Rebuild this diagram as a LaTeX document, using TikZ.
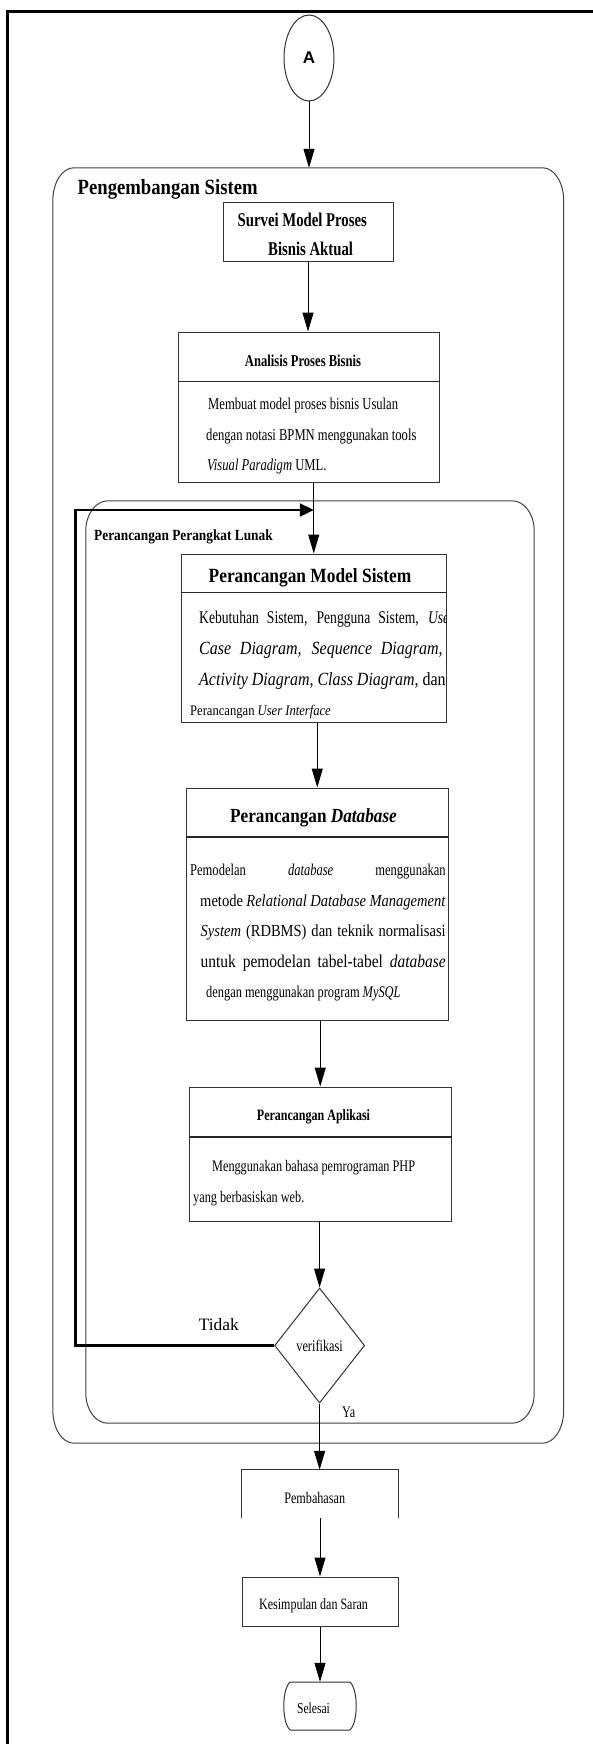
\documentclass[tikz,border=0pt]{standalone}
\usepackage{fontspec}
\setmainfont{Liberation Serif}
\newfontfamily\fa[FakeStretch=0.76]{Liberation Serif}
\newfontfamily\fb[FakeStretch=0.86]{Liberation Serif}
\newfontfamily\fs{Liberation Sans}
\usetikzlibrary{arrows.meta,shapes.geometric,calc}
\newcommand\fz[1]{\fontsize{#1}{#1}\selectfont}

% outline of a container node with elliptic corners (x radius #2, y radius #3)
\newcommand\roundframe[3]{%
  \draw[contline] ($(#1.north west)+(#2,0)$) -- ($(#1.north east)+(-#2,0)$)
    .. controls ($(#1.north east)+(-0.448*#2,0)$) and ($(#1.north east)+(0,0.448*#3)$) .. ($(#1.north east)+(0,#3)$)
    -- ($(#1.south east)+(0,-#3)$)
    .. controls ($(#1.south east)+(0,-0.448*#3)$) and ($(#1.south east)+(-0.448*#2,0)$) .. ($(#1.south east)+(-#2,0)$)
    -- ($(#1.south west)+(#2,0)$)
    .. controls ($(#1.south west)+(0.448*#2,0)$) and ($(#1.south west)+(0,-0.448*#3)$) .. ($(#1.south west)+(0,-#3)$)
    -- ($(#1.north west)+(0,#3)$)
    .. controls ($(#1.north west)+(0,0.448*#3)$) and ($(#1.north west)+(0.448*#2,0)$) .. ($(#1.north west)+(#2,0)$) -- cycle;}

\tikzset{
  frame/.style={line width=3pt, black},
  box/.style={draw=black!80, line width=1pt, rectangle, inner sep=0pt},
  cont/.style={rectangle, inner sep=0pt},
  contline/.style={draw=black!75, line width=1pt},
  divider/.style={draw=black!85, line width=1pt},
  thickdiv/.style={draw=black!85, line width=2pt},
  arr/.style={-{Triangle[length=19pt,width=11pt]}, black, line width=1pt},
  loopline/.style={-{Triangle[length=14pt,width=13pt]}, black, line width=2.4pt},
  txt/.style={inner sep=0pt, anchor=base west},
  ctxt/.style={inner sep=0pt, anchor=base},
}

\begin{document}
\begin{tikzpicture}[x=1pt, y=-1pt]
\useasboundingbox (0,0) rectangle (593,1744);

% page frame (top and left edges)
\draw[frame] (7.5,1744) -- (7.5,12) -- (593,12);

% start connector
\node[draw=black!80, line width=1pt, ellipse, minimum width=50pt, minimum height=86pt, inner sep=0pt]
  (A) at (309,58) {\fs\bfseries\fz{17}A};

% containers
\node[cont, minimum width=510.5pt, minimum height=1275pt] (outer) at (308.25,805.5) {};
\roundframe{outer}{21}{33}
\node[txt] (outerT) at (77.5,195) {\fb\bfseries\fz{21.7}Pengembangan Sistem};

\node[cont, minimum width=448pt, minimum height=922pt] (inner) at (310,962) {};
\roundframe{inner}{22}{30}
\node[txt] (innerT) at (94,540) {\fb\bfseries\fz{15.5}Perancangan Perangkat Lunak};

% Survei Model Proses Bisnis Aktual
\node[box, minimum width=170pt, minimum height=58pt] (survei) at (308,232) {};
\node[txt] (s1) at (237.5,227) {\fa\bfseries\fz{19.4}Survei Model Proses};
\node[txt] (s2) at (268,255) {\fa\bfseries\fz{19.4}Bisnis Aktual};

% Analisis Proses Bisnis
\node[box, minimum width=261pt, minimum height=150pt] (analisis) at (308.5,407) {};
\draw[divider] (analisis.west |- 0,381) -- (analisis.east |- 0,381);
\node[ctxt] (aH) at (303,366) {\fa\bfseries\fz{16.6}Analisis Proses Bisnis};
\node[txt] (a1) at (208,409) {\fa\fz{16.6}Membuat model proses bisnis Usulan};
\node[txt] (a2) at (206,440) {\fa\fz{16.6}dengan notasi BPMN menggunakan tools};
\node[txt] (a3) at (207,470) {\fa\fz{16.6}\textit{Visual Paradigm} UML.};

% Perancangan Model Sistem
\node[box, minimum width=264.5pt, minimum height=168pt] (model) at (313.75,638) {};
\draw[divider] (model.west |- 0,592) -- (model.east |- 0,592);
\node[ctxt] (mH) at (310,582) {\fb\bfseries\fz{20.2}Perancangan Model Sistem};
\begin{scope}
  \clip (model.north west) rectangle (model.south east);
  \node[txt] (m1) at (199,623) {\fa\fz{17.9}\makebox[250pt][s]{Kebutuhan Sistem, Pengguna Sistem, \textit{Use}}};
\end{scope}
\node[txt] (m2) at (199,654) {\fb\itshape\fz{18.6}\makebox[243.5pt][s]{Case Diagram, Sequence Diagram,}};
\node[txt] (m3) at (199,685) {\fb\fz{18.6}\makebox[246.5pt][s]{\textit{Activity Diagram, Class Diagram}, dan}};
\node[txt] (m4) at (190,715) {\fb\fz{14.65}Perancangan \textit{User Interface}};

% Perancangan Database
\node[box, minimum width=261.5pt, minimum height=232pt] (database) at (317.25,904) {};
\draw[thickdiv] (database.west |- 0,837) -- (database.east |- 0,837);
\node[ctxt] (dH) at (313.5,822) {\fb\bfseries\fz{20}Perancangan \textit{Database}};
\node[txt] (d1) at (190,875) {\fa\fz{16.5}\makebox[255.5pt][s]{Pemodelan \textit{database} menggunakan}};
\node[txt] (d2) at (200,906) {\fb\fz{16.9}\makebox[245.5pt][s]{metode \textit{Relational Database Management}}};
\node[txt] (d3) at (200.5,936) {\fb\fz{16.9}\makebox[245pt][s]{\textit{System} (RDBMS) dan teknik normalisasi}};
\node[txt] (d4) at (200.5,967) {\fb\fz{18}\makebox[245pt][s]{untuk pemodelan tabel-tabel \textit{database}}};
\node[txt] (d5) at (206,997) {\fa\fz{16.3}dengan menggunakan program \textit{MySQL}};

% Perancangan Aplikasi
\node[box, minimum width=261.5pt, minimum height=134pt] (aplikasi) at (320.25,1154) {};
\draw[thickdiv] (aplikasi.west |- 0,1137) -- (aplikasi.east |- 0,1137);
\node[ctxt] (pH) at (313.5,1120) {\fa\bfseries\fz{15.8}Perancangan Aplikasi};
\node[txt] (p1) at (212,1171) {\fa\fz{16.1}Menggunakan bahasa pemrograman PHP};
\node[txt] (p2) at (193,1202) {\fa\fz{16.1}yang berbasiskan web.};

% decision
\node[draw=black!80, line width=1pt, diamond, minimum width=90pt, minimum height=115pt, inner sep=0pt]
  (ver) at (319.6,1345.5) {\fa\fz{16.2}verifikasi};
\node[txt] (tidak) at (198.6,1330) {\fz{17.4}Tidak};
\node[txt] (ya) at (342,1417) {\fa\fz{16}Ya};

% Pembahasan (open at the bottom)
\node[minimum width=156pt, minimum height=48pt, inner sep=0pt] (pemb) at (320,1494) {};
\draw[draw=black!80, line width=1pt] (pemb.south west) -- (pemb.north west) -- (pemb.north east) -- (pemb.south east);
\node[ctxt] (pembT) at (314.7,1503) {\fa\fz{16}Pembahasan};

% Kesimpulan dan Saran
\node[box, minimum width=156pt, minimum height=49pt] (kes) at (320,1601.5) {};
\node[ctxt] (kesT) at (313.5,1609) {\fa\fz{15.8}Kesimpulan dan Saran};

% terminator
\node[minimum width=72.6pt, minimum height=48pt, inner sep=0pt] (sel) at (320,1706) {};
\draw[draw=black!80, line width=1pt]
  (290,1682) -- (350,1682) .. controls (358.3,1690) and (358.3,1722) .. (350,1730)
  -- (290,1730) .. controls (281.7,1722) and (281.7,1690) .. (290,1682) -- cycle;
\node[ctxt] (selT) at (313.5,1713) {\fa\fz{15.3}Selesai};

% connectors
\draw[arr] (A.south) -- (A.south |- outer.north);
\draw[arr] (survei.south) -- (survei.south |- analisis.north);
\draw[arr] (analisis.south -| model.north) -- (model.north);
\draw[arr] (model.south -| database.north) -- (database.north);
\draw[arr] (database.south -| aplikasi.north) -- (aplikasi.north);
\draw[arr] (aplikasi.south -| ver.north) -- (ver.north);
\draw[arr] (ver.south) -- (ver.south |- pemb.north);
\draw[arr] (pemb.south -| kes.north) -- (kes.north);
\draw[arr] (kes.south) -- (sel.north);

% feedback loop
\coordinate (lp1) at (75.6,1345.5);
\coordinate (lp2) at (75.6,510);
\draw[loopline] (ver.west) -- (lp1) -- (lp2) -- (model.north |- lp2);
\end{tikzpicture}
\end{document}
